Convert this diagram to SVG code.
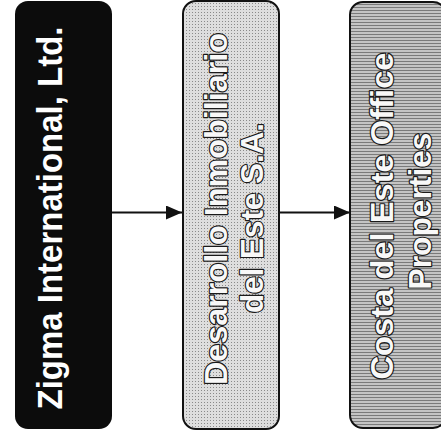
<svg xmlns="http://www.w3.org/2000/svg" width="441" height="437" viewBox="0 0 441 437">
  <defs>
    <style>
      .lbl { font-family: "Liberation Sans", Arial, sans-serif; font-weight: bold; font-size: 32px; text-anchor: middle; }
      .dark { fill: #ffffff; }
      .hollow { fill: #f8f8f8; stroke: #1a1a1a; stroke-width: 2.4; paint-order: stroke; stroke-linejoin: round; }
      .conn { stroke: #111; stroke-width: 2; fill: none; }
    </style>
    <marker id="arr" viewBox="0 0 16 14" refX="16" refY="7" markerWidth="16" markerHeight="14" markerUnits="userSpaceOnUse" orient="auto">
      <path d="M0,0 L16,7 L0,14 Z" fill="#111"/>
    </marker>
    <pattern id="dotsA" width="3" height="3" patternUnits="userSpaceOnUse">
      <rect width="3" height="3" fill="#dedede"/>
      <rect x="0" y="0" width="1" height="1" fill="#8a8a8a"/>
    </pattern>
    <pattern id="dotsB" width="2" height="3" patternUnits="userSpaceOnUse">
      <rect width="2" height="3" fill="#c4c4c4"/>
      <rect x="0" y="1" width="2" height="1" fill="#7a7a7a"/>
    </pattern>
  </defs>

  <g id="connectors">
    <line class="conn" x1="112" y1="212.5" x2="182" y2="212.5" marker-end="url(#arr)"/>
    <line class="conn" x1="279" y1="212.5" x2="350" y2="212.5" marker-end="url(#arr)"/>
  </g>

  <g id="node-zigma">
    <rect x="15" y="1" width="97" height="428" rx="13" ry="13" fill="#0c0c0c"/>
    <text class="lbl dark" textLength="383" lengthAdjust="spacingAndGlyphs" transform="translate(62,218) rotate(-90)" style="font-size:35px">Zigma International, Ltd.</text>
  </g>

  <g id="node-desarrollo">
    <rect x="183" y="1" width="96" height="428" rx="13" ry="13" fill="url(#dotsA)" stroke="#111" stroke-width="2"/>
    <text class="lbl hollow" textLength="352" lengthAdjust="spacingAndGlyphs" transform="translate(227,209) rotate(-90)">Desarrollo Inmobiliario</text>
    <text class="lbl hollow" textLength="190" lengthAdjust="spacingAndGlyphs" transform="translate(263,218) rotate(-90)">del Este S.A.</text>
  </g>

  <g id="node-costa">
    <rect x="350" y="2" width="96" height="426" rx="13" ry="13" fill="url(#dotsB)" stroke="#111" stroke-width="2"/>
    <text class="lbl hollow" textLength="327" lengthAdjust="spacingAndGlyphs" transform="translate(393,216) rotate(-90)">Costa del Este Office</text>
    <text class="lbl hollow" textLength="157" lengthAdjust="spacingAndGlyphs" transform="translate(431,211) rotate(-90)">Properties</text>
  </g>
</svg>
